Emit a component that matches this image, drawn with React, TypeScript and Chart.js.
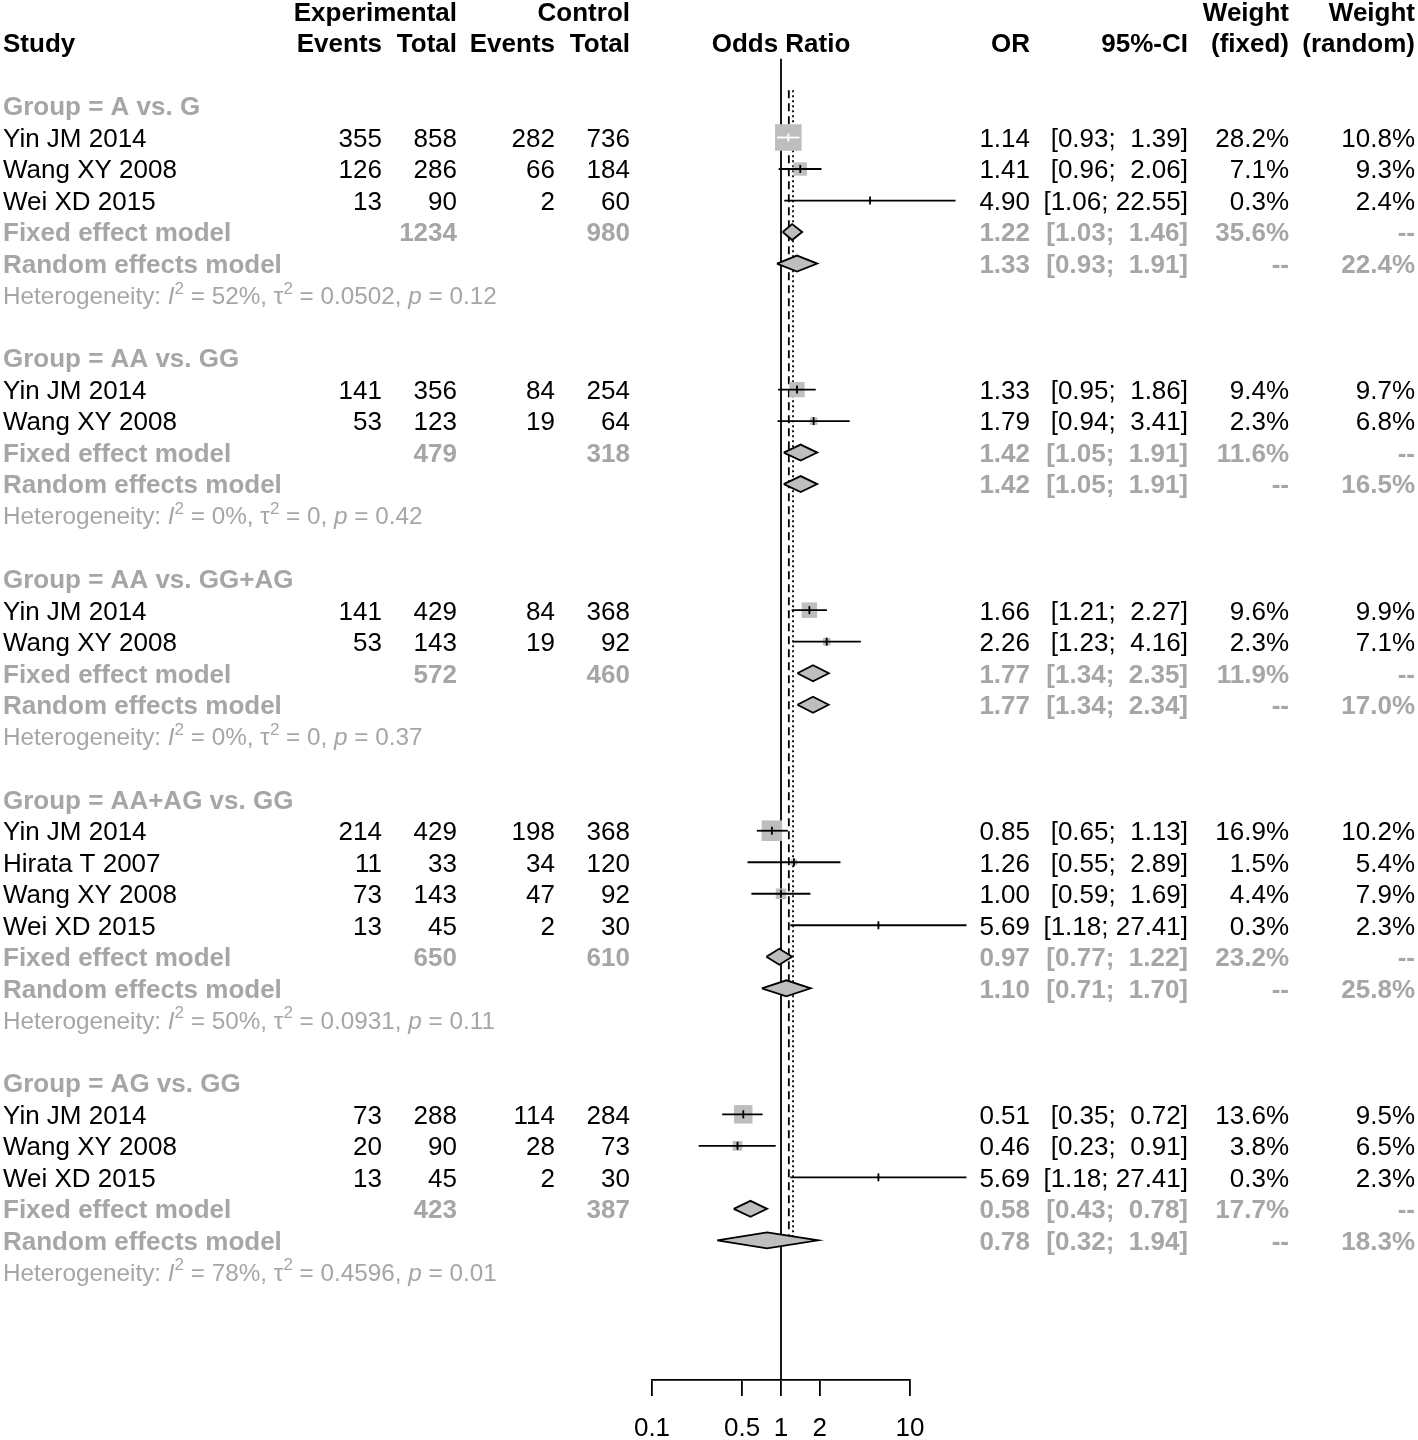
import React, { useEffect, useRef } from "react";
import { Chart, registerables } from "chart.js";

Chart.register(...registerables);

// ---------------- data ----------------
const groupNames = ["A vs. G", "AA vs. GG", "AA vs. GG+AG", "AA+AG vs. GG", "AG vs. GG"];

const studyNames = [
  "Yin JM 2014", "Wang XY 2008", "Wei XD 2015",
  "Yin JM 2014", "Wang XY 2008",
  "Yin JM 2014", "Wang XY 2008",
  "Yin JM 2014", "Hirata T 2007", "Wang XY 2008", "Wei XD 2015",
  "Yin JM 2014", "Wang XY 2008", "Wei XD 2015",
];
const studyGroup = [0, 0, 0, 1, 1, 2, 2, 3, 3, 3, 3, 4, 4, 4];
const expEvents = [355, 126, 13, 141, 53, 141, 53, 214, 11, 73, 13, 73, 20, 13];
const expTotal = [858, 286, 90, 356, 123, 429, 143, 429, 33, 143, 45, 288, 90, 45];
const ctrlEvents = [282, 66, 2, 84, 19, 84, 19, 198, 34, 47, 2, 114, 28, 2];
const ctrlTotal = [736, 184, 60, 254, 64, 368, 92, 368, 120, 92, 30, 284, 73, 30];
const studyOR = [1.14, 1.41, 4.9, 1.33, 1.79, 1.66, 2.26, 0.85, 1.26, 1.0, 5.69, 0.51, 0.46, 5.69];
const studyLower = [0.93, 0.96, 1.06, 0.95, 0.94, 1.21, 1.23, 0.65, 0.55, 0.59, 1.18, 0.35, 0.23, 1.18];
const studyUpper = [1.39, 2.06, 22.55, 1.86, 3.41, 2.27, 4.16, 1.13, 2.89, 1.69, 27.41, 0.72, 0.91, 27.41];
const weightFixed = [28.2, 7.1, 0.3, 9.4, 2.3, 9.6, 2.3, 16.9, 1.5, 4.4, 0.3, 13.6, 3.8, 0.3];
const weightRandom = [10.8, 9.3, 2.4, 9.7, 6.8, 9.9, 7.1, 10.2, 5.4, 7.9, 2.3, 9.5, 6.5, 2.3];

const fixedOR = [1.22, 1.42, 1.77, 0.97, 0.58];
const fixedLower = [1.03, 1.05, 1.34, 0.77, 0.43];
const fixedUpper = [1.46, 1.91, 2.35, 1.22, 0.78];
const fixedWeight = [35.6, 11.6, 11.9, 23.2, 17.7];
const randomOR = [1.33, 1.42, 1.77, 1.1, 0.78];
const randomLower = [0.93, 1.05, 1.34, 0.71, 0.32];
const randomUpper = [1.91, 1.91, 2.34, 1.7, 1.94];
const randomWeight = [22.4, 16.5, 17.0, 25.8, 18.3];
const expTotalSum = [1234, 479, 572, 650, 423];
const ctrlTotalSum = [980, 318, 460, 610, 387];
const hetI2 = ["52%", "0%", "0%", "50%", "78%"];
const hetTau2 = ["0.0502", "0", "0", "0.0931", "0.4596"];
const hetP = ["0.12", "0.42", "0.37", "0.11", "0.01"];

const overallFixed = 1.15;
const overallRandom = 1.24;

const xTicks = [0.1, 0.5, 1, 2, 10];
const xTickLabels = ["0.1", "0.5", "1", "2", "10"];

// ---------------- layout / style ----------------
const CANVAS_W = 1418;
const CANVAS_H = 1440;
const ROW0_PX = 106;
const ROW_PX = 31.51;
const AXIS_PX = 1380;
const PLOT_LEFT = 652;
const PLOT_RIGHT = 910;
const PX_PER_DECADE = (PLOT_RIGHT - PLOT_LEFT) / 2;
const SQUARE_K = 5; // square side in px per sqrt(weight %)
const DIAMOND_HALF = 8 / ROW_PX;
const FONT = '"Liberation Sans", Arial, Helvetica, sans-serif';
const TEXT_SIZE = 26;
const HET_SIZE = 24.3;
const AXIS_SIZE = 26;
const GREY = "#a6a6a6";
const FILL = "#bebebe";
const LW = 1.8;

const Y_MIN = -ROW0_PX / ROW_PX;
const Y_MAX = (AXIS_PX - ROW0_PX) / ROW_PX;

type Row = { kind: string; g: number; s: number; row: number };
const rows: Row[] = [];
{
  let r = 0;
  groupNames.forEach((_, g) => {
    rows.push({ kind: "group", g, s: -1, row: r++ });
    studyGroup.forEach((sg, s) => {
      if (sg === g) rows.push({ kind: "study", g, s, row: r++ });
    });
    rows.push({ kind: "fixed", g, s: -1, row: r++ });
    rows.push({ kind: "random", g, s: -1, row: r++ });
    rows.push({ kind: "het", g, s: -1, row: r++ });
    r++;
  });
}
const lastRow = rows[rows.length - 2].row;

const f2 = (v: number) => v.toFixed(2);
const ciText = (lo: number, hi: number) =>
  "[" + f2(lo) + ";" + (hi < 10 ? "  " : " ") + f2(hi) + "]";
const pct = (v: number) => v.toFixed(1) + "%";

const textPlugin = {
  id: "forestText",
  afterDraw(chart: any) {
    const ctx: CanvasRenderingContext2D = chart.ctx;
    const ys = chart.scales.y;
    const xs = chart.scales.x;
    const Y = (r: number) => ys.getPixelForValue(r);
    ctx.save();
    const txt = (s: string, x: number, r: number, align: CanvasTextAlign, bold: boolean, color: string) => {
      ctx.font = (bold ? "bold " : "") + TEXT_SIZE + "px " + FONT;
      ctx.fillStyle = color;
      ctx.textAlign = align;
      ctx.textBaseline = "alphabetic";
      ctx.fillText(s, x, Y(r) + TEXT_SIZE * 0.36);
    };
    // headers
    const h1 = -3, h2 = -2;
    txt("Experimental", 457, h1, "right", true, "#000");
    txt("Control", 630, h1, "right", true, "#000");
    txt("Weight", 1289, h1, "right", true, "#000");
    txt("Weight", 1415, h1, "right", true, "#000");
    txt("Study", 3, h2, "left", true, "#000");
    txt("Events", 382, h2, "right", true, "#000");
    txt("Total", 457, h2, "right", true, "#000");
    txt("Events", 555, h2, "right", true, "#000");
    txt("Total", 630, h2, "right", true, "#000");
    txt("Odds Ratio", xs.getPixelForValue(1), h2, "center", true, "#000");
    txt("OR", 1030, h2, "right", true, "#000");
    txt("95%-CI", 1188, h2, "right", true, "#000");
    txt("(fixed)", 1289, h2, "right", true, "#000");
    txt("(random)", 1415, h2, "right", true, "#000");

    rows.forEach((rw) => {
      const r = rw.row;
      const g = rw.g;
      if (rw.kind === "group") {
        txt("Group = " + groupNames[g], 3, r, "left", true, GREY);
      } else if (rw.kind === "study") {
        const s = rw.s;
        txt(studyNames[s], 3, r, "left", false, "#000");
        txt(String(expEvents[s]), 382, r, "right", false, "#000");
        txt(String(expTotal[s]), 457, r, "right", false, "#000");
        txt(String(ctrlEvents[s]), 555, r, "right", false, "#000");
        txt(String(ctrlTotal[s]), 630, r, "right", false, "#000");
        txt(f2(studyOR[s]), 1030, r, "right", false, "#000");
        txt(ciText(studyLower[s], studyUpper[s]), 1188, r, "right", false, "#000");
        txt(pct(weightFixed[s]), 1289, r, "right", false, "#000");
        txt(pct(weightRandom[s]), 1415, r, "right", false, "#000");
      } else if (rw.kind === "fixed") {
        txt("Fixed effect model", 3, r, "left", true, GREY);
        txt(String(expTotalSum[g]), 457, r, "right", true, GREY);
        txt(String(ctrlTotalSum[g]), 630, r, "right", true, GREY);
        txt(f2(fixedOR[g]), 1030, r, "right", true, GREY);
        txt(ciText(fixedLower[g], fixedUpper[g]), 1188, r, "right", true, GREY);
        txt(pct(fixedWeight[g]), 1289, r, "right", true, GREY);
        txt("--", 1415, r, "right", true, GREY);
      } else if (rw.kind === "random") {
        txt("Random effects model", 3, r, "left", true, GREY);
        txt(f2(randomOR[g]), 1030, r, "right", true, GREY);
        txt(ciText(randomLower[g], randomUpper[g]), 1188, r, "right", true, GREY);
        txt("--", 1289, r, "right", true, GREY);
        txt(pct(randomWeight[g]), 1415, r, "right", true, GREY);
      } else if (rw.kind === "het") {
        const base = Y(r) + HET_SIZE * 0.36;
        const parts: [string, string][] = [
          ["Heterogeneity: ", "n"],
          ["I", "i"],
          ["2", "s"],
          [" = " + hetI2[g] + ", ", "n"],
          ["\u03c4", "n"],
          ["2", "s"],
          [" = " + hetTau2[g] + ", ", "n"],
          ["p", "i"],
          [" = " + hetP[g], "n"],
        ];
        let x = 3;
        ctx.textAlign = "left";
        ctx.textBaseline = "alphabetic";
        ctx.fillStyle = GREY;
        parts.forEach(([t, st]) => {
          let dy = 0;
          if (st === "i") ctx.font = "italic " + HET_SIZE + "px " + FONT;
          else if (st === "s") {
            ctx.font = Math.round(HET_SIZE * 0.72) + "px " + FONT;
            dy = -HET_SIZE * 0.42;
          } else ctx.font = HET_SIZE + "px " + FONT;
          ctx.fillText(t, x, base + dy);
          x += ctx.measureText(t).width;
        });
      }
    });
    ctx.restore();
  },
};

export default function App() {
  const ref = useRef<HTMLCanvasElement | null>(null);
  useEffect(() => {
    const canvas = ref.current;
    if (!canvas) return;
    const studyRows = rows.filter((r) => r.kind === "study");
    const sqSide = (w: number) => SQUARE_K * Math.sqrt(w);
    const insideSquare = studyRows.map((rw) => {
      const s = rw.s;
      const half = sqSide(weightFixed[s]) / 2;
      const dl = Math.log10(studyOR[s] / studyLower[s]) * PX_PER_DECADE;
      const du = Math.log10(studyUpper[s] / studyOR[s]) * PX_PER_DECADE;
      return dl < half && du < half;
    });

    const datasets: any[] = [];
    // reference lines
    datasets.push({
      type: "line",
      data: [{ x: 1, y: -1.5 }, { x: 1, y: Y_MAX }],
      borderColor: "#000",
      borderWidth: LW,
      pointRadius: 0,
      order: 20,
    });
    datasets.push({
      type: "line",
      data: [{ x: overallFixed, y: -0.5 }, { x: overallFixed, y: lastRow }],
      borderColor: "#000",
      borderWidth: LW,
      borderDash: [8, 5],
      pointRadius: 0,
      order: 19,
    });
    datasets.push({
      type: "line",
      data: [{ x: overallRandom, y: -0.5 }, { x: overallRandom, y: lastRow }],
      borderColor: "#000",
      borderWidth: LW,
      borderDash: [2, 3],
      pointRadius: 0,
      order: 18,
    });
    // squares
    datasets.push({
      type: "scatter",
      data: studyRows.map((rw) => ({ x: studyOR[rw.s], y: rw.row })),
      pointStyle: "rect",
      pointRadius: studyRows.map((rw) => sqSide(weightFixed[rw.s]) / (2 * Math.SQRT1_2)),
      backgroundColor: FILL,
      borderWidth: 0,
      order: 10,
    });
    // CI lines
    studyRows.forEach((rw, i) => {
      datasets.push({
        type: "line",
        data: [
          { x: studyLower[rw.s], y: rw.row },
          { x: studyUpper[rw.s], y: rw.row },
        ],
        borderColor: insideSquare[i] ? "#fff" : "#000",
        borderWidth: LW,
        pointRadius: 0,
        clip: false,
        order: 5,
      });
    });
    // estimate ticks
    datasets.push({
      type: "scatter",
      data: studyRows.map((rw) => ({ x: studyOR[rw.s], y: rw.row })),
      pointStyle: "line",
      rotation: 90,
      pointRadius: 4,
      borderWidth: LW,
      borderColor: insideSquare.map((b) => (b ? "#fff" : "#000")),
      backgroundColor: "#000",
      clip: false,
      order: 4,
    });
    // diamonds
    rows.forEach((rw) => {
      if (rw.kind !== "fixed" && rw.kind !== "random") return;
      const g = rw.g;
      const est = rw.kind === "fixed" ? fixedOR[g] : randomOR[g];
      const lo = rw.kind === "fixed" ? fixedLower[g] : randomLower[g];
      const hi = rw.kind === "fixed" ? fixedUpper[g] : randomUpper[g];
      datasets.push({
        type: "line",
        data: [
          { x: lo, y: rw.row },
          { x: est, y: rw.row - DIAMOND_HALF },
          { x: hi, y: rw.row },
          { x: est, y: rw.row + DIAMOND_HALF },
          { x: lo, y: rw.row },
        ],
        fill: "shape",
        backgroundColor: FILL,
        borderColor: "#000",
        borderWidth: LW,
        pointRadius: 0,
        tension: 0,
        order: 3,
      });
    });

    const chart = new Chart(canvas, {
      type: "line",
      data: { datasets },
      options: {
        animation: false,
        responsive: false,
        devicePixelRatio: 1,
        events: [],
        layout: {
          autoPadding: false,
          padding: { left: PLOT_LEFT, right: CANVAS_W - PLOT_RIGHT, top: 0, bottom: 0 },
        },
        plugins: { legend: { display: false }, tooltip: { enabled: false } },
        scales: {
          x: {
            type: "logarithmic",
            position: "bottom",
            min: xTicks[0],
            max: xTicks[xTicks.length - 1],
            afterBuildTicks: (scale: any) => {
              scale.ticks = xTicks.map((v) => ({ value: v }));
            },
            afterFit: (scale: any) => {
              scale.height = CANVAS_H - AXIS_PX;
            },
            ticks: {
              autoSkip: false,
              maxRotation: 0,
              padding: 17,
              color: "#000",
              font: { family: FONT, size: AXIS_SIZE },
              callback: (_v: any, i: number) => xTickLabels[i],
            },
            grid: {
              display: true,
              drawOnChartArea: false,
              drawTicks: true,
              tickLength: 16,
              color: "#000",
              lineWidth: LW,
            },
            border: { display: true, color: "#000", width: LW },
          },
          y: {
            type: "linear",
            display: false,
            reverse: true,
            min: Y_MIN,
            max: Y_MAX,
          },
        },
      } as any,
      plugins: [textPlugin],
    });
    return () => chart.destroy();
  }, []);

  return (
    <div style={{ position: "absolute", left: 0, top: 0, width: CANVAS_W, height: CANVAS_H, background: "#fff" }}>
      <canvas ref={ref} width={CANVAS_W} height={CANVAS_H} style={{ display: "block" }} />
    </div>
  );
}
